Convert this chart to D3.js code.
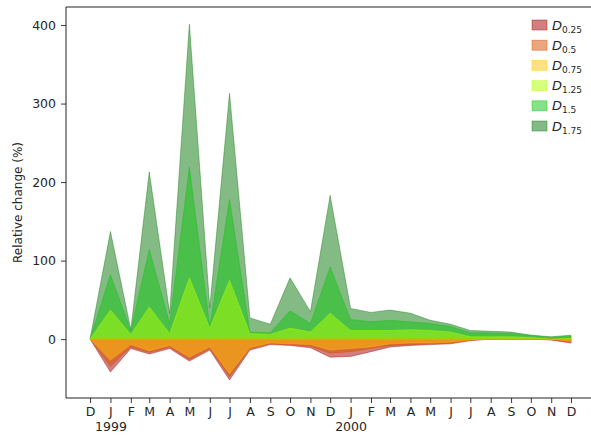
<!DOCTYPE html>
<html>
<head>
<meta charset="utf-8">
<script src="https://cdn.jsdelivr.net/npm/d3@7"></script>
<style>
  body { margin: 0; background: #fff; }
  text { font-family: "DejaVu Sans", sans-serif; fill: #262626; }
</style>
</head>
<body>
<div id="chart"></div>
<script>
// monthly dates, Dec 1998 .. Dec 2000
var months = ["1998-12-01", "1999-01-01", "1999-02-01", "1999-03-01", "1999-04-01", "1999-05-01",
  "1999-06-01", "1999-07-01", "1999-08-01", "1999-09-01", "1999-10-01", "1999-11-01",
  "1999-12-01", "2000-01-01", "2000-02-01", "2000-03-01", "2000-04-01", "2000-05-01",
  "2000-06-01", "2000-07-01", "2000-08-01", "2000-09-01", "2000-10-01", "2000-11-01", "2000-12-01"];

// relative change (%) per level
var d025 = [0, -42, -12, -19, -12, -28, -14, -52, -14, -7, -8, -11, -23, -22, -16, -10, -8, -7, -6, -2, 0, 0, 0, -1, -5];
var d05  = [0, -35, -10, -17, -10, -26, -12, -48, -12, -6, -7, -9, -18, -16, -12, -8, -7, -6, -5, -1, 0, 0, 0, -1, -4];
var d075 = [0, -27, -7, -15, -8, -23, -10, -44, -11, -5, -6, -7, -14, -12, -10, -6, -5, -5, -4, -1, 0, 0, 0, 0, -3];
var d125 = [0, 37, 6, 41, 7, 78, 14, 75, 7, 6, 14, 9, 33, 11, 11, 11, 12, 11, 9, 3, 3, 3, 2, 0, 1];
var d15  = [0, 82, 11, 114, 20, 219, 16, 178, 9, 8, 36, 20, 92, 25, 22, 24, 22, 20, 16, 8, 8, 7, 5, 2, 4];
var d175 = [0, 137, 12, 213, 33, 401, 40, 313, 27, 19, 78, 35, 183, 39, 34, 37, 33, 24, 19, 11, 10, 9, 5, 3, 5];

var layerNames = ["0.25", "0.5", "0.75", "1.25", "1.5", "1.75"];
var layerValues = [d025, d05, d075, d125, d15, d175];
var layerColors = ["#a10101", "#d74b00", "#ffc300", "#afff00", "#0fc30f", "#0a780a"];
// draw order: outer levels first, inner levels on top
var drawOrder = [5, 0, 4, 1, 3, 2];

var yTicks = [0, 100, 200, 300, 400];

var svgWidth = 591;
var svgHeight = 435;
var margin = { top: 7, right: -4, bottom: 37, left: 66 };
var width = svgWidth - margin.left - margin.right;
var height = svgHeight - margin.top - margin.bottom;

var svg = d3.select("#chart")
  .append("svg")
  .attr("width", svgWidth)
  .attr("height", svgHeight);

var chartGroup = svg.append("g")
  .attr("transform", `translate(${margin.left}, ${margin.top})`);

var parse = d3.timeParse("%Y-%m-%d");
var dates = months.map(parse);

// 5% padding on each side like matplotlib
var t0 = dates[0].getTime(), t1 = dates[dates.length - 1].getTime();
var pad = (t1 - t0) * 0.05;
var xScale = d3.scaleTime()
  .domain([new Date(t0 - pad), new Date(t1 + pad)])
  .range([0, width]);

var yScale = d3.scaleLinear()
  .domain([-75, 423])
  .range([height, 0]);

// areas
var area = d3.area()
  .x((d, i) => xScale(dates[i]))
  .y0(yScale(0))
  .y1(d => yScale(d));

drawOrder.forEach(function(k) {
  chartGroup.append("path")
    .datum(layerValues[k])
    .attr("d", area)
    .attr("fill", layerColors[k])
    .attr("fill-opacity", 0.5)
    .attr("stroke", layerColors[k])
    .attr("stroke-opacity", 0.5)
    .attr("stroke-width", 0.8)
    .attr("stroke-linejoin", "round");
});

// axes
var xAxis = d3.axisBottom(xScale)
  .tickValues(dates)
  .tickSize(5)
  .tickPadding(4)
  .tickFormat(d => d3.timeFormat("%b")(d)[0]);

var yAxis = d3.axisLeft(yScale)
  .tickValues(yTicks)
  .tickSize(5)
  .tickPadding(5);

var gx = chartGroup.append("g")
  .attr("transform", `translate(0, ${height})`)
  .call(xAxis);
gx.select(".domain").remove();
gx.selectAll("text").style("font-size", "12.5px");
gx.selectAll(".tick")
  .filter(d => d.getMonth() === 0)
  .append("text")
  .attr("y", 9)
  .attr("dy", "1.95em")
  .attr("text-anchor", "middle")
  .style("font-size", "12.5px")
  .text(d => d.getFullYear());

var gy = chartGroup.append("g").call(yAxis);
gy.select(".domain").remove();
gy.selectAll("text").style("font-size", "12.5px");

[gx, gy].forEach(g => g.selectAll(".tick line").attr("stroke", "#222").attr("stroke-width", 0.9));

// spines (right one falls outside the picture)
chartGroup.append("path")
  .attr("d", `M${width},0H0V${height}H${width}`)
  .attr("fill", "none")
  .attr("stroke", "#222")
  .attr("stroke-width", 1);

// y axis label
chartGroup.append("text")
  .attr("transform", "rotate(-90)")
  .attr("x", 0 - (height / 2))
  .attr("y", 18 - margin.left)
  .attr("dy", "0.35em")
  .attr("text-anchor", "middle")
  .style("font-size", "12px")
  .text("Relative change (%)");

// legend
var legend = svg.append("g")
  .attr("transform", "translate(532, 25)");

layerNames.forEach(function(name, i) {
  var row = legend.append("g")
    .attr("transform", `translate(0, ${i * 20.2})`);
  row.append("rect")
    .attr("x", 0)
    .attr("y", -5)
    .attr("width", 15)
    .attr("height", 10)
    .attr("fill", layerColors[i])
    .attr("fill-opacity", 0.5)
    .attr("stroke", layerColors[i])
    .attr("stroke-opacity", 0.5)
    .attr("stroke-width", 0.8);
  var label = row.append("text")
    .attr("x", 20)
    .attr("y", 4.5)
    .style("font-size", "13px");
  label.append("tspan")
    .style("font-style", "italic")
    .text("D");
  label.append("tspan")
    .attr("dy", 3)
    .style("font-size", "9px")
    .text(name);
});
</script>
</body>
</html>
